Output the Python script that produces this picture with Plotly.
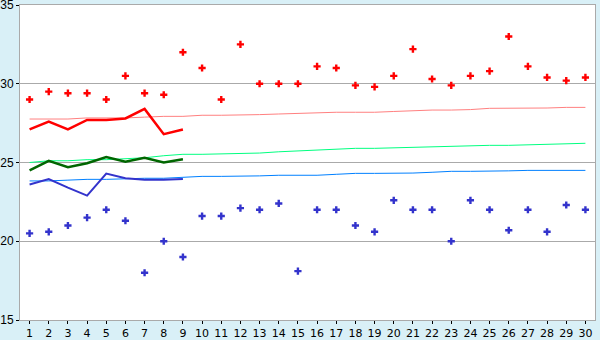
import plotly.graph_objects as go

days = list(range(1, 31))
max_temp = [29.0, 29.5, 29.4, 29.4, 29.0, 30.5, 29.4, 29.3, 32.0, 31.0,
            29.0, 32.5, 30.0, 30.0, 30.0, 31.1, 31.0, 29.9, 29.8, 30.5,
            32.2, 30.3, 29.9, 30.5, 30.8, 33.0, 31.1, 30.4, 30.2, 30.4]
min_temp = [20.5, 20.6, 21.0, 21.5, 22.0, 21.3, 18.0, 20.0, 19.0, 21.6,
            21.6, 22.1, 22.0, 22.4, 18.1, 22.0, 22.0, 21.0, 20.6, 22.6,
            22.0, 22.0, 20.0, 22.6, 22.0, 20.7, 22.0, 20.6, 22.3, 22.0]
obs_days = list(range(1, 10))
obs_max = [27.1, 27.6, 27.1, 27.7, 27.7, 27.8, 28.4, 26.8, 27.1]
obs_mean = [24.5, 25.1, 24.7, 24.95, 25.35, 25.05, 25.3, 25.0, 25.2]
obs_min = [23.6, 23.95, 23.4, 22.9, 24.3, 24.0, 23.9, 23.9, 23.95]
norm_max = [27.76, 27.76, 27.76, 27.83, 27.83, 27.83, 27.88, 27.93, 27.93, 28.0,
            28.0, 28.0, 28.04, 28.08, 28.12, 28.12, 28.19, 28.19, 28.19, 28.24,
            28.3, 28.33, 28.33, 28.36, 28.44, 28.44, 28.44, 28.46, 28.5, 28.5]
norm_mean = [25.0, 25.11, 25.11, 25.18, 25.18, 25.24, 25.3, 25.43, 25.52, 25.52,
             25.55, 25.58, 25.6, 25.68, 25.74, 25.8, 25.84, 25.9, 25.9, 25.93,
             26.0, 26.03, 26.05, 26.09, 26.09, 26.09, 26.12, 26.18, 26.22, 26.22]
norm_min = [23.83, 23.83, 23.88, 23.93, 23.93, 23.97, 24.0, 24.0, 24.05, 24.12,
            24.12, 24.12, 24.15, 24.19, 24.19, 24.19, 24.25, 24.31, 24.31, 24.31,
            24.33, 24.38, 24.44, 24.44, 24.44, 24.47, 24.5, 24.5, 24.5, 24.5]

fig = go.Figure()
fig.add_trace(go.Scatter(x=days, y=norm_max, mode="lines", line=dict(color="#ff8080", width=1)))
fig.add_trace(go.Scatter(x=days, y=norm_mean, mode="lines", line=dict(color="#00ff80", width=1)))
fig.add_trace(go.Scatter(x=days, y=norm_min, mode="lines", line=dict(color="#0080ff", width=1)))
fig.add_trace(go.Scatter(x=obs_days, y=obs_max, mode="lines", line=dict(color="#ff0000", width=2.5)))
fig.add_trace(go.Scatter(x=obs_days, y=obs_mean, mode="lines", line=dict(color="#006600", width=2.5)))
fig.add_trace(go.Scatter(x=obs_days, y=obs_min, mode="lines", line=dict(color="#3333cc", width=2)))
fig.add_trace(go.Scatter(x=days, y=max_temp, mode="markers",
                         marker=dict(symbol="cross", size=6, color="#ff0000")))
fig.add_trace(go.Scatter(x=days, y=min_temp, mode="markers",
                         marker=dict(symbol="cross", size=6, color="#3333cc")))

fig.update_layout(
    width=600, height=340,
    margin=dict(l=20, r=5, t=5, b=20),
    paper_bgcolor="#d9f0f7", plot_bgcolor="#ffffff",
    showlegend=False,
    font=dict(family="DejaVu Sans", size=11, color="#000000"),
)
fig.update_xaxes(range=[0.5, 30.5], tickvals=days, ticktext=[str(d) for d in days],
                 ticks="outside", ticklen=3, tickcolor="#000000", tickfont=dict(size=11),
                 showgrid=False, zeroline=False, showline=True, linecolor="#aaaaaa",
                 linewidth=1, mirror=True, automargin=False)
fig.update_yaxes(range=[15, 35], tickvals=[15, 20, 25, 30, 35],
                 ticks="outside", ticklen=3, tickcolor="#000000",
                 tickfont=dict(family="Liberation Sans", size=12),
                 ticklabeloverflow="allow",
                 showgrid=True, gridcolor="#aaaaaa", gridwidth=1, zeroline=False,
                 showline=True, linecolor="#aaaaaa", linewidth=1, mirror=True,
                 automargin=False)

fig.write_html("out.html")
